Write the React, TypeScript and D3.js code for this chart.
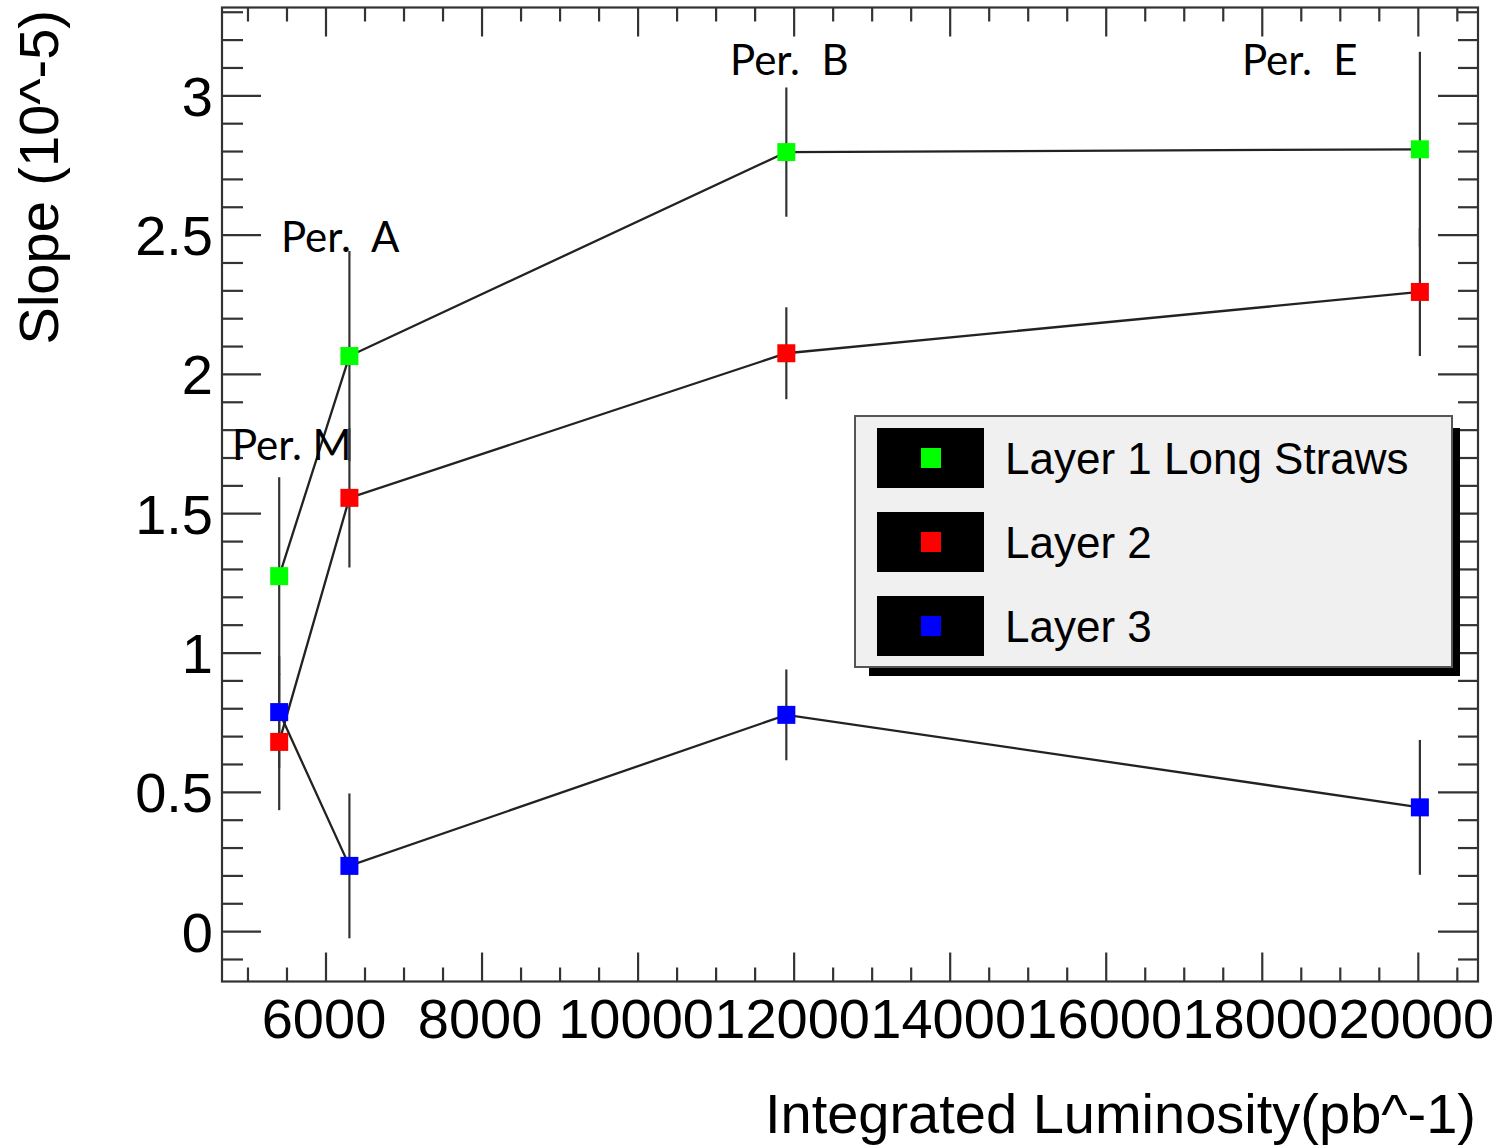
import React from "react";
import * as d3 from "d3";

const periods = ["Per. M", "Per.  A", "Per.  B", "Per.  E"];
const luminosity = [5400, 6300, 11900, 20020];
const layer1 = [1.276, 2.066, 2.798, 2.808];
const layer1Err = [0.355, 0.377, 0.232, 0.35];
const layer2 = [0.681, 1.557, 2.076, 2.296];
const layer2Err = [0.245, 0.25, 0.165, 0.23];
const layer3 = [0.788, 0.236, 0.778, 0.446];
const layer3Err = [0.2, 0.26, 0.163, 0.242];
const seriesNames = ["Layer 1 Long Straws", "Layer 2", "Layer 3"];
const seriesColors = ["#00ff00", "#ff0000", "#0000ff"];
const xTickValues = [6000, 8000, 10000, 12000, 14000, 16000, 18000, 20000];
const yTickValues = [0, 0.5, 1, 1.5, 2, 2.5, 3];
// annotation anchor points in data coordinates (x, y)
const annotX = [4795, 5423, 11179, 17740];
const annotY = [1.692, 2.439, 3.074, 3.074];

const W = 1507;
const H = 1145;
const L = 222, R = 1478, T = 7.5, B = 981.5;
const AX = "#333";
const SANS = "'Liberation Sans', Arial, sans-serif";

export default function App() {
  const x = d3.scaleLinear().domain([4667, 20765]).range([L, R]);
  const y = d3.scaleLinear().domain([-0.179, 3.317]).range([B, T]);

  const xMinor = d3.range(4500, 21000, 500).filter((v) => x(v) > L + 1 && x(v) < R - 1 && v % 2000 !== 0);
  const yMinor = d3.range(-0.1, 3.35, 0.1).map((v) => Math.round(v * 10) / 10).filter((v) => y(v) > T + 1 && y(v) < B - 1 && Math.round(v * 10) % 5 !== 0);

  const series = [
    { vals: layer1, errs: layer1Err },
    { vals: layer2, errs: layer2Err },
    { vals: layer3, errs: layer3Err },
  ];
  const line = d3.line<number>().x((_, i) => x(luminosity[i])).y((d) => y(d));

  const lg = { x: 855, y: 416, w: 597, h: 251 };
  const ms = 18;

  return (
    <svg width={W} height={H} style={{ position: "absolute", left: 0, top: 0, background: "#fff" }}>
      <rect x={0} y={0} width={W} height={H} fill="#fff" />
      {/* error bars */}
      {series.map((s, si) =>
        s.vals.map((v, i) => (
          <line key={`e${si}-${i}`} x1={x(luminosity[i])} x2={x(luminosity[i])} y1={y(v + s.errs[i])} y2={y(v - s.errs[i])} stroke={AX} strokeWidth={2.2} />
        ))
      )}
      {/* lines */}
      {series.map((s, si) => (
        <path key={`l${si}`} d={line(s.vals) || ""} fill="none" stroke="#222" strokeWidth={2.3} />
      ))}
      {/* markers */}
      {series.map((s, si) =>
        s.vals.map((v, i) => (
          <rect key={`m${si}-${i}`} x={x(luminosity[i]) - ms / 2} y={y(v) - ms / 2} width={ms} height={ms} fill={seriesColors[si]} />
        ))
      )}
      {/* frame */}
      <rect x={L} y={T} width={R - L} height={B - T} fill="none" stroke={AX} strokeWidth={2.2} />
      {/* x ticks bottom & top */}
      {xTickValues.map((v) => (
        <g key={`xt${v}`}>
          <line x1={x(v)} x2={x(v)} y1={B} y2={B - 29} stroke={AX} strokeWidth={2.2} />
          <line x1={x(v)} x2={x(v)} y1={T} y2={T + 29} stroke={AX} strokeWidth={2.2} />
          <text x={x(v) - 2} y={1038} fontFamily={SANS} fontSize={56} textAnchor="middle" fill="#000">{v}</text>
        </g>
      ))}
      {xMinor.map((v) => (
        <g key={`xm${v}`}>
          <line x1={x(v)} x2={x(v)} y1={B} y2={B - 14} stroke={AX} strokeWidth={2.2} />
          <line x1={x(v)} x2={x(v)} y1={T} y2={T + 14} stroke={AX} strokeWidth={2.2} />
        </g>
      ))}
      {/* y ticks left & right */}
      {yTickValues.map((v) => (
        <g key={`yt${v}`}>
          <line x1={L} x2={L + 39} y1={y(v)} y2={y(v)} stroke={AX} strokeWidth={2.2} />
          <line x1={R} x2={R - 40} y1={y(v)} y2={y(v)} stroke={AX} strokeWidth={2.2} />
          <text x={213} y={y(v) + 20} fontFamily={SANS} fontSize={56} textAnchor="end" fill="#000">{v}</text>
        </g>
      ))}
      {yMinor.map((v) => (
        <g key={`ym${v}`}>
          <line x1={L} x2={L + 21} y1={y(v)} y2={y(v)} stroke={AX} strokeWidth={2.2} />
          <line x1={R} x2={R - 20} y1={y(v)} y2={y(v)} stroke={AX} strokeWidth={2.2} />
        </g>
      ))}
      {/* axis titles */}
      <text x={1476} y={1133} fontFamily={SANS} fontSize={56} textAnchor="end" fill="#000">Integrated Luminosity(pb^-1)</text>
      <text transform="translate(58,10) rotate(-90)" fontFamily={SANS} fontSize={56} textAnchor="end" fill="#000">Slope (10^-5)</text>
      {/* period annotations */}
      {periods.map((p, i) => (
        <text key={`p${i}`} x={x(annotX[i])} y={y(annotY[i])} fontFamily="Lato, 'Open Sans', sans-serif" fontSize={42} fill="#000" style={{ whiteSpace: "pre" }}>{p}</text>
      ))}
      {/* legend */}
      <rect x={869} y={428} width={591} height={248} fill="#000" />
      <rect x={lg.x} y={lg.y} width={lg.w} height={lg.h} fill="#f0f0f0" stroke="#555" strokeWidth={2} />
      {seriesNames.map((n, i) => {
        const cy = 458 + i * 84;
        return (
          <g key={`lg${i}`}>
            <rect x={877} y={cy - 30} width={107} height={60} fill="#000" />
            <rect x={931 - 10} y={cy - 10} width={20} height={20} fill={seriesColors[i]} />
            <text x={1005} y={cy + 16} fontFamily={SANS} fontSize={44} fill="#000">{n}</text>
          </g>
        );
      })}
    </svg>
  );
}
